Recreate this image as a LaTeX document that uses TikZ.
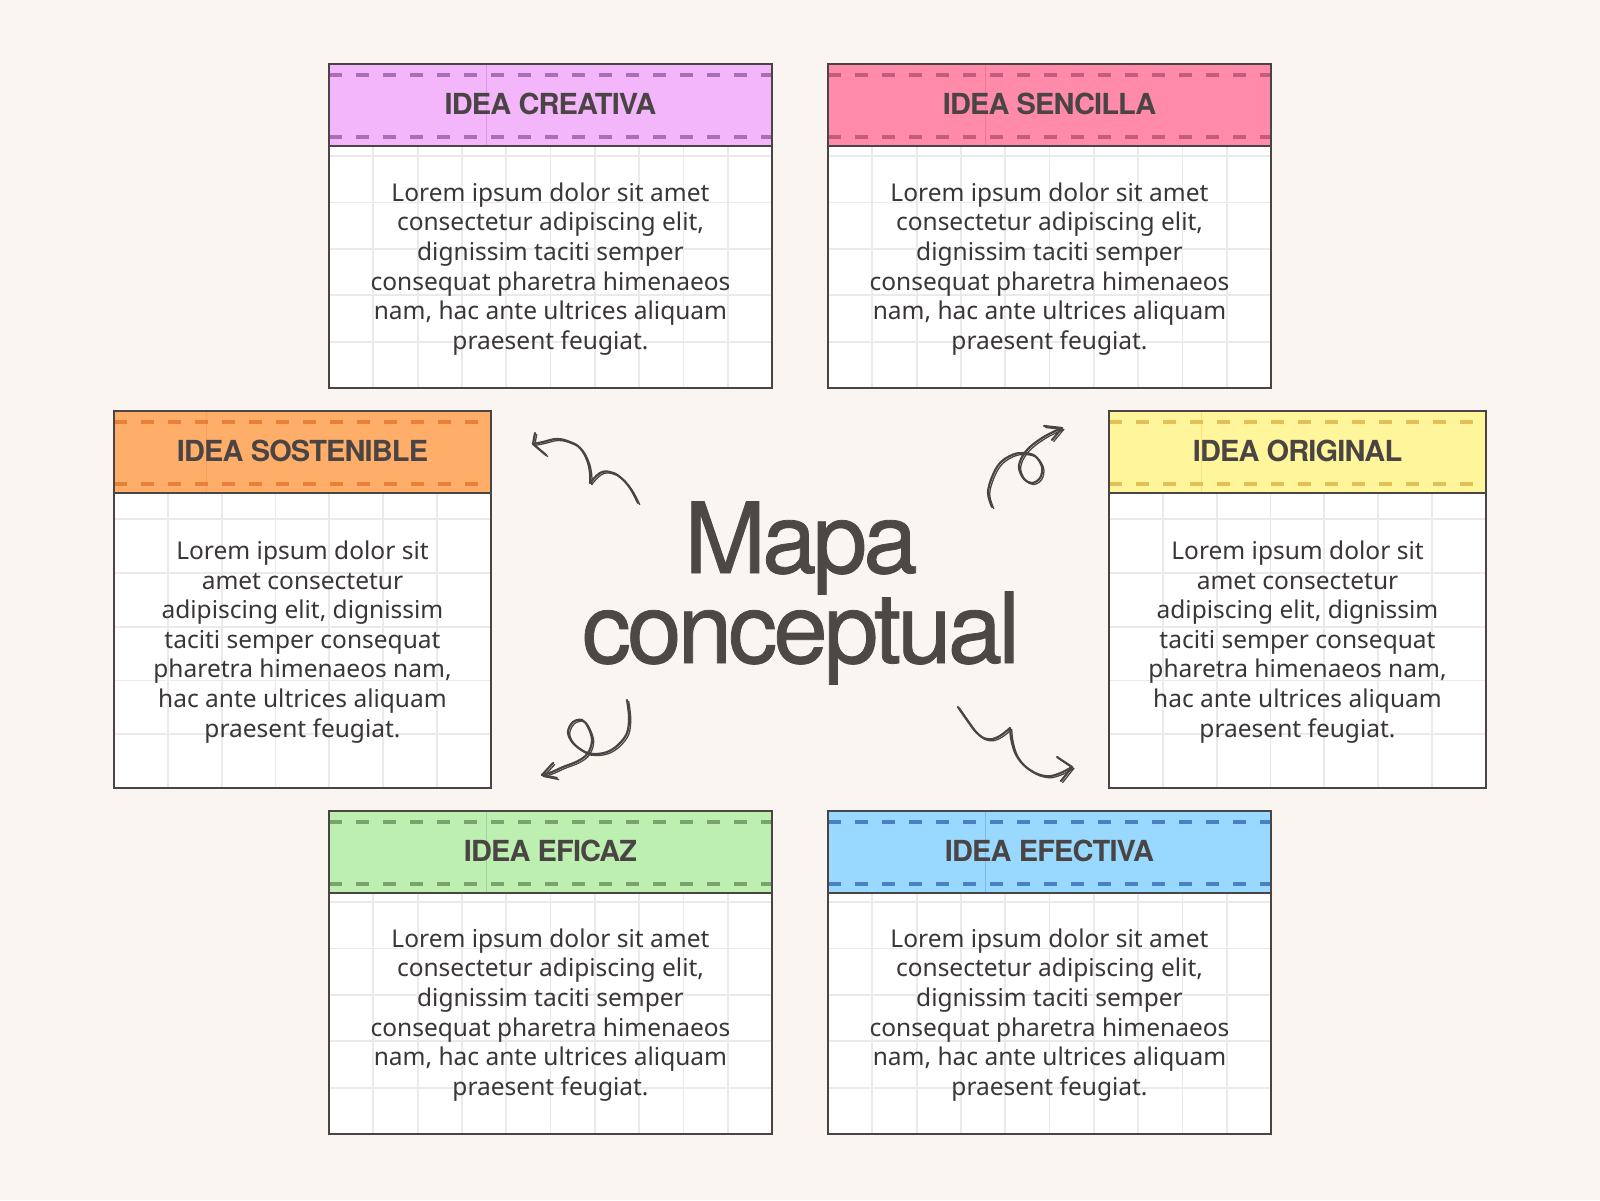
\documentclass[tikz,border=0pt]{standalone}
\usepackage{fontspec}
\setmainfont{Noto Sans}
\newfontfamily\headfont[LetterSpace=-3]{TeX Gyre Heros}
\newfontfamily\titlefont[LetterSpace=-4,FakeBold=0.8]{TeX Gyre Heros}
\definecolor{bgc}{RGB}{250,245,241}
\definecolor{borderc}{RGB}{74,68,68}
\definecolor{gridc}{RGB}{234,234,234}
\definecolor{headc}{RGB}{74,68,68}
\definecolor{bodyc}{RGB}{58,54,54}
\definecolor{titlec}{RGB}{77,71,70}
\definecolor{arrowc}{RGB}{74,68,68}
\definecolor{creF}{RGB}{243,182,250}\definecolor{creD}{RGB}{170,110,184}
\definecolor{senF}{RGB}{255,138,170}\definecolor{senD}{RGB}{198,92,124}
\definecolor{sosF}{RGB}{255,174,106}\definecolor{sosD}{RGB}{234,128,56}
\definecolor{oriF}{RGB}{255,245,154}\definecolor{oriD}{RGB}{228,190,86}
\definecolor{efiF}{RGB}{189,239,176}\definecolor{efiD}{RGB}{122,162,112}
\definecolor{efeF}{RGB}{153,217,255}\definecolor{efeD}{RGB}{76,126,196}
\tikzset{
  border/.style={draw=borderc, line width=2.8pt},
  gridline/.style={draw=gridc, line width=1.8pt},
  dashline/.style={line width=3.2pt, dash pattern=on 13pt off 14pt},
  headtxt/.style={font=\headfont\bfseries\fontsize{29}{31}\selectfont, text=headc, inner sep=0pt},
  bodytxt/.style={font=\fontsize{24.5}{29.6}\selectfont, text=bodyc, align=center, inner sep=0pt},
  titletxt/.style={font=\titlefont\fontsize{98}{90}\selectfont, text=titlec, inner sep=0pt, anchor=base},
  sketch/.style={draw=arrowc, line width=2.2pt, line cap=round, line join=round},
  sketchb/.style={draw=arrowc, line width=1.3pt, line cap=round, line join=round, shift={(1.7,1.5)}},
}
% #1 left #2 top #3 right #4 bottom #5 grid x #6 grid y #7 colour prefix #8 seam offset
\newcommand\ideabox[8]{%
  \fill[white] (#1,#2) rectangle (#3,#4);
  \begin{scope}
    \clip (#1,#2) rectangle (#3,#4);
    \foreach \k in {1,...,11}{\draw[gridline] ({#1+\k*#5},#2) -- ({#1+\k*#5},#4);}
    \foreach \k in {1,...,7}{\draw[gridline] (#1,{#4-\k*#6}) -- (#3,{#4-\k*#6});}
  \end{scope}
  \fill[#7F] (#1,#2) rectangle (#3,{#2+82});
  \draw[#7D!35!#7F, line width=1pt] ({#1+#8},#2) -- ({#1+#8},{#2+82});
  \draw[dashline, #7D] (#1,{#2+11}) -- (#3,{#2+11});
  \draw[dashline, #7D] (#1,{#2+73}) -- (#3,{#2+73});
  \draw[border] (#1,{#2+82}) -- (#3,{#2+82});
  \draw[border] (#1,#2) rectangle (#3,#4);
}
\begin{document}
\begin{tikzpicture}[x=1pt,y=-1pt]
\fill[bgc] (0,0) rectangle (1600,1200);
\useasboundingbox (0,0) rectangle (1600,1200);

\ideabox{329}{64}{772}{388}{44.3}{46.4}{cre}{157}
\ideabox{828}{64}{1271}{388}{44.3}{46.4}{sen}{157}
\ideabox{114}{411}{491}{788}{53.8}{53.8}{sos}{92}
\ideabox{1109}{411}{1486}{788}{53.8}{53.8}{ori}{92}
\ideabox{329}{811}{772}{1134}{44.3}{46.4}{efi}{157}
\ideabox{828}{811}{1271}{1134}{44.3}{46.4}{efe}{157}

\node[headtxt] (creT) at (550.5,104) {IDEA CREATIVA};
\node[headtxt] (senT) at (1049.5,104) {IDEA SENCILLA};
\node[headtxt] (sosT) at (302.5,451) {IDEA SOSTENIBLE};
\node[headtxt] (oriT) at (1297.5,451) {IDEA ORIGINAL};
\node[headtxt] (efiT) at (550.5,851) {IDEA EFICAZ};
\node[headtxt] (efeT) at (1049.5,851) {IDEA EFECTIVA};

\node[bodytxt] (creB) at (550.5,269) {Lorem ipsum dolor sit amet\\consectetur adipiscing elit,\\dignissim taciti semper\\consequat pharetra himenaeos\\nam, hac ante ultrices aliquam\\praesent feugiat.};
\node[bodytxt] (senB) at (1049.5,269) {Lorem ipsum dolor sit amet\\consectetur adipiscing elit,\\dignissim taciti semper\\consequat pharetra himenaeos\\nam, hac ante ultrices aliquam\\praesent feugiat.};
\node[bodytxt] (sosB) at (302.5,642) {Lorem ipsum dolor sit\\amet consectetur\\adipiscing elit, dignissim\\taciti semper consequat\\pharetra himenaeos nam,\\hac ante ultrices aliquam\\praesent feugiat.};
\node[bodytxt] (oriB) at (1297.5,642) {Lorem ipsum dolor sit\\amet consectetur\\adipiscing elit, dignissim\\taciti semper consequat\\pharetra himenaeos nam,\\hac ante ultrices aliquam\\praesent feugiat.};
\node[bodytxt] (efiB) at (550.5,1015) {Lorem ipsum dolor sit amet\\consectetur adipiscing elit,\\dignissim taciti semper\\consequat pharetra himenaeos\\nam, hac ante ultrices aliquam\\praesent feugiat.};
\node[bodytxt] (efeB) at (1049.5,1015) {Lorem ipsum dolor sit amet\\consectetur adipiscing elit,\\dignissim taciti semper\\consequat pharetra himenaeos\\nam, hac ante ultrices aliquam\\praesent feugiat.};

\node[titletxt] (mapa) at (801,573) {Mapa};
\node[titletxt] (conc) at (801,663) {conceptual};

% sketched arrows
\foreach \st in {sketch,sketchb}{
  % upper left
  \draw[\st] plot[smooth, tension=0.7] coordinates {(638,503) (630,488) (620,477) (610,472) (600,473) (590,483)};
  \draw[\st] plot[smooth, tension=0.7] coordinates {(590,483) (590,473) (587,460) (580,448) (570,442) (557,439) (543,442) (533,444)};
  \draw[\st] (535,433) -- (533,444) -- (546,455);
  % upper right
  \draw[\st] plot[smooth, tension=0.6] coordinates {(992,507) (988,493) (992,477) (1000,463) (1012,455) (1023,453) (1035,456) (1042,467) (1040,478) (1032,483) (1024,479) (1019,468) (1022,457) (1030,447) (1042,438) (1053,432) (1062,428)};
  \draw[\st] (1044,426) -- (1062,428) -- (1052,440);
  % lower left
  \draw[\st] plot[smooth, tension=0.6] coordinates {(627,700) (629,717) (627,733) (618,745) (607,752) (595,754) (585,752) (573,743) (568,732) (573,722) (582,720) (588,727) (592,740) (588,753) (578,761) (563,767) (552,772) (542,775)};
  \draw[\st] (553,763) -- (542,775) -- (557,778);
  % lower right
  \draw[\st] plot[smooth, tension=0.7] coordinates {(958,707) (967,720) (977,733) (987,739) (998,737) (1010,728)};
  \draw[\st] plot[smooth, tension=0.7] coordinates {(1010,728) (1012,743) (1018,758) (1030,770) (1045,776) (1058,774) (1072,767)};
  \draw[\st] (1057,757) -- (1072,767) -- (1061,781);
}
\end{tikzpicture}
\end{document}
